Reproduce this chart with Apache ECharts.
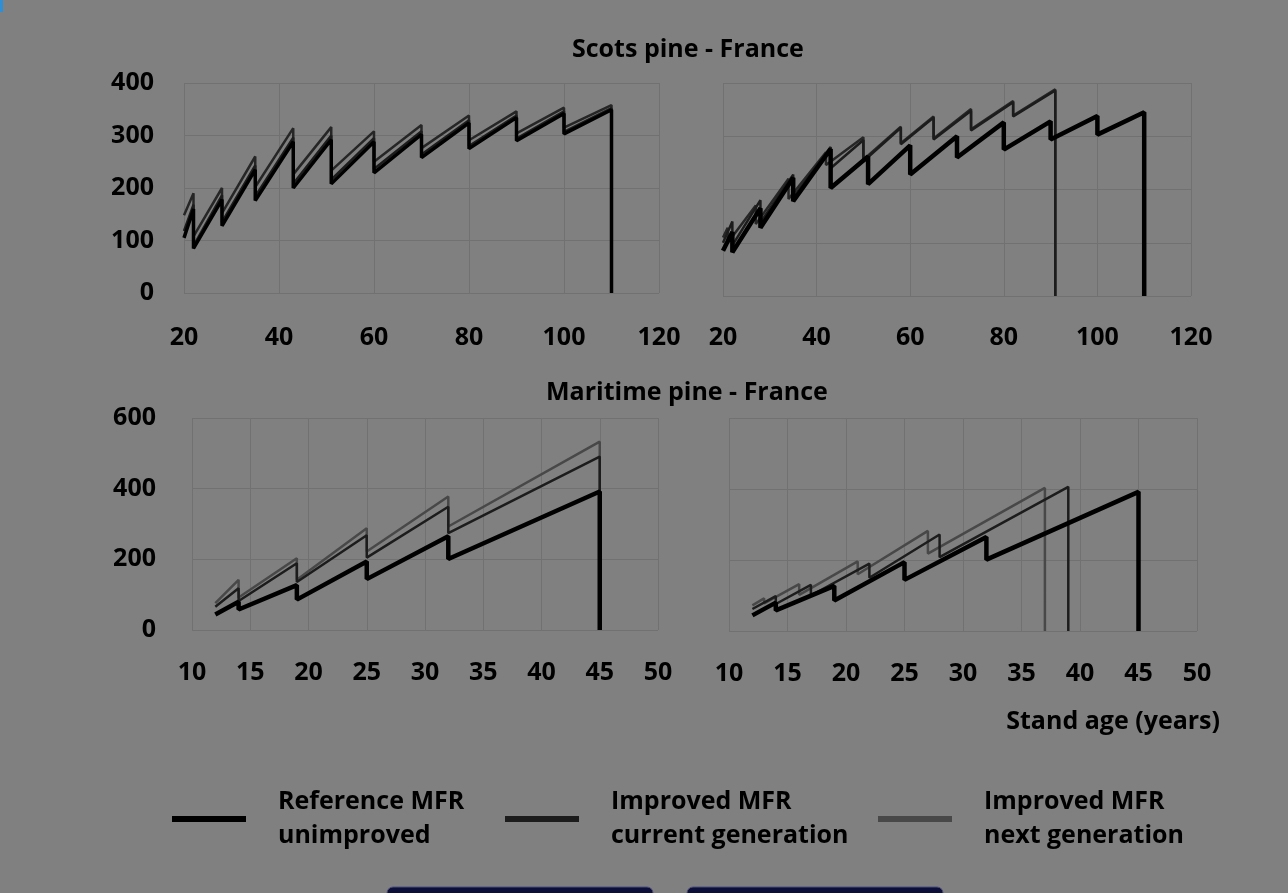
<!DOCTYPE html>
<html>
<head>
<meta charset="utf-8">
<script src="https://cdn.jsdelivr.net/npm/echarts@6/dist/echarts.min.js"></script>
<style>
  html, body { margin: 0; padding: 0; background: #808080; }
  #chart { width: 1288px; height: 893px; }
</style>
</head>
<body>
<div id="chart"></div>
<script>
// series names (legend)
var nameRef = 'Reference MFR\nunimproved';
var nameCur = 'Improved MFR\ncurrent generation';
var nameNext = 'Improved MFR\nnext generation';

// Scots pine - France, left panel: [stand age, value]
var spLeftRef = [[20,105],[22,160],[22,85],[28,178],[28,128],[35,235],[35,176],[43,288],[43,200],[51,292],[51,208],[60,288],[60,229],[70,302],[70,258],[80,324],[80,275],[90,334],[90,290],[100,342],[100,303],[110,349],[110,0]];
var spLeftCur = [[20,118],[22,168],[22,90],[28,186],[28,135],[35,243],[35,184],[43,296],[43,208],[51,300],[51,216],[60,295],[60,236],[70,308],[70,264],[80,329],[80,280],[90,338],[90,294],[100,346],[100,307],[110,352],[110,0]];
var spLeftNext = [[20,148],[22,190],[22,108],[28,200],[28,152],[35,260],[35,202],[43,314],[43,226],[51,316],[51,233],[60,308],[60,250],[70,320],[70,276],[80,338],[80,291],[90,346],[90,304],[100,353],[100,315],[110,358],[110,0]];

// Scots pine - France, right panel
var spRightRef = [[20,85],[22,120],[22,82],[28,165],[28,128],[35,222],[35,178],[43,276],[43,203],[51,262],[51,210],[60,283],[60,228],[70,300],[70,260],[80,326],[80,275],[90,328],[90,294],[100,338],[100,303],[110,345],[110,0]];
var spRightCur = [[20,100],[22,140],[22,95],[28,180],[28,138],[35,228],[35,185],[43,280],[43,240],[50,293],[50,253],[58,316],[58,285],[65,335],[65,294],[73,348],[73,311],[82,364],[82,337],[91,386],[91,0]];
var spRightNext = [[20,110],[21,128],[21,100],[27,170],[27,135],[34,220],[34,182],[42,270],[42,246],[50,298],[50,256],[58,318],[58,287],[65,337],[65,296],[73,351],[73,313],[82,366],[82,339],[91,388],[91,0]];

// Maritime pine - France, left panel
var mpLeftRef = [[12,44],[14,80],[14,58],[19,127],[19,86],[25,194],[25,144],[32,265],[32,201],[45,392],[45,0]];
var mpLeftCur = [[12,66],[14,118],[14,82],[19,189],[19,136],[25,268],[25,205],[32,349],[32,274],[45,491],[45,0]];
var mpLeftNext = [[12,76],[14,142],[14,92],[19,203],[19,142],[25,288],[25,222],[32,378],[32,293],[45,533],[45,0]];

// Maritime pine - France, right panel
var mpRightRef = [[12,44],[14,80],[14,58],[19,127],[19,86],[25,194],[25,144],[32,265],[32,201],[45,392],[45,0]];
var mpRightCur = [[12,62],[14,98],[14,76],[17,130],[17,100],[22,190],[22,150],[28,272],[28,208],[39,406],[39,0]];
var mpRightNext = [[12,72],[13,92],[13,78],[16,132],[16,102],[21,196],[21,160],[27,282],[27,218],[37,403],[37,0]];

// axis ranges / tick steps
var spAge = {min: 20, max: 120, step: 20};
var spVal = {min: 0, max: 400, step: 100};
var mpAge = {min: 10, max: 50, step: 5};
var mpVal = {min: 0, max: 600, step: 200};

var font = 'Open Sans';
var gridColor = '#717171';
var labelSize = 25;

function xAxis(i, r, margin) {
    return {
        type: 'value', gridIndex: i, min: r.min, max: r.max, interval: r.step,
        axisLine: {show: false}, axisTick: {show: false},
        splitLine: {show: true, lineStyle: {color: gridColor, width: 1}},
        axisLabel: {color: '#000', fontFamily: font, fontWeight: 'bold', fontSize: labelSize, margin: margin}
    };
}
function yAxis(i, r, showLabel, margin) {
    return {
        type: 'value', gridIndex: i, min: r.min, max: r.max, interval: r.step,
        axisLine: {show: false}, axisTick: {show: false},
        splitLine: {show: true, lineStyle: {color: gridColor, width: 1}},
        axisLabel: {show: showLabel, color: '#000', fontFamily: font, fontWeight: 'bold', fontSize: labelSize, margin: margin}
    };
}
function line(name, data, i, color, width) {
    return {
        name: name, type: 'line', data: data, xAxisIndex: i, yAxisIndex: i,
        showSymbol: false, symbol: 'none', animation: false,
        lineStyle: {color: color, width: width}, itemStyle: {color: color}
    };
}
function legendFor(name, left) {
    return {
        data: [name], left: left, top: 785, padding: 0, icon: 'rect', itemWidth: 74, itemHeight: 6,
        textStyle: {color: '#000', fontFamily: font, fontWeight: 'bold', fontSize: 25, lineHeight: 34, padding: [0, 0, 0, 27]},
        selectedMode: false
    };
}

var chartDom = document.getElementById('chart');
var myChart = echarts.init(chartDom, null, {renderer: 'canvas'});

var colRef = '#000000', colCur = '#1c1c1c', colNext = '#484848';
// in the Scots pine panels the improved lines print darker
var colNextDark = '#262626';

var titleStyle = {color: '#000', fontFamily: font, fontWeight: 'bold', fontSize: 25};

var option = {
    backgroundColor: '#808080',
    animation: false,
    title: [
        {text: 'Scots pine - France', left: 567, top: 32, textStyle: titleStyle},
        {text: 'Maritime pine - France', left: 541, top: 375, textStyle: titleStyle},
        {text: 'Stand age (years)', right: 63, top: 704, textStyle: titleStyle}
    ],
    legend: [
        legendFor(nameRef, 172),
        legendFor(nameCur, 505),
        legendFor(nameNext, 878)
    ],
    grid: [
        {left: 184, top: 83, width: 475, height: 210},
        {left: 723, top: 83, width: 468, height: 213},
        {left: 192, top: 418, width: 466, height: 212},
        {left: 729, top: 418, width: 468, height: 213}
    ],
    xAxis: [
        xAxis(0, spAge, 32), xAxis(1, spAge, 29),
        xAxis(2, mpAge, 30), xAxis(3, mpAge, 30)
    ],
    yAxis: [
        yAxis(0, spVal, true, 30), yAxis(1, spVal, false, 30),
        yAxis(2, mpVal, true, 36), yAxis(3, mpVal, false, 36)
    ],
    series: [
        // Maritime pine first so the legend takes its colours from these
        line(nameNext, mpLeftNext, 2, colNext, 2.5),
        line(nameCur, mpLeftCur, 2, colCur, 2.5),
        line(nameRef, mpLeftRef, 2, colRef, 4.5),
        line(nameNext, mpRightNext, 3, colNext, 2.5),
        line(nameCur, mpRightCur, 3, colCur, 2.5),
        line(nameRef, mpRightRef, 3, colRef, 4.5),
        line(nameNext, spLeftNext, 0, colNextDark, 2.5),
        line(nameCur, spLeftCur, 0, colCur, 2.5),
        line(nameRef, spLeftRef, 0, colRef, 3.5),
        line(nameNext, spRightNext, 1, colNextDark, 2.5),
        line(nameCur, spRightCur, 1, colCur, 2.5),
        line(nameRef, spRightRef, 1, colRef, 4.5)
    ],
    graphic: [
        {type: 'rect', shape: {x: 0, y: 0, width: 3, height: 12}, style: {fill: '#2f8fd6'}},
        {type: 'rect', shape: {x: 387, y: 887, width: 266, height: 12, r: [6, 6, 0, 0]}, style: {fill: '#0c0f3a', stroke: '#4a4e78', lineWidth: 1}},
        {type: 'rect', shape: {x: 687, y: 887, width: 256, height: 12, r: [6, 6, 0, 0]}, style: {fill: '#0c0f3a', stroke: '#4a4e78', lineWidth: 1}}
    ]
};

option && myChart.setOption(option);
</script>
</body>
</html>
